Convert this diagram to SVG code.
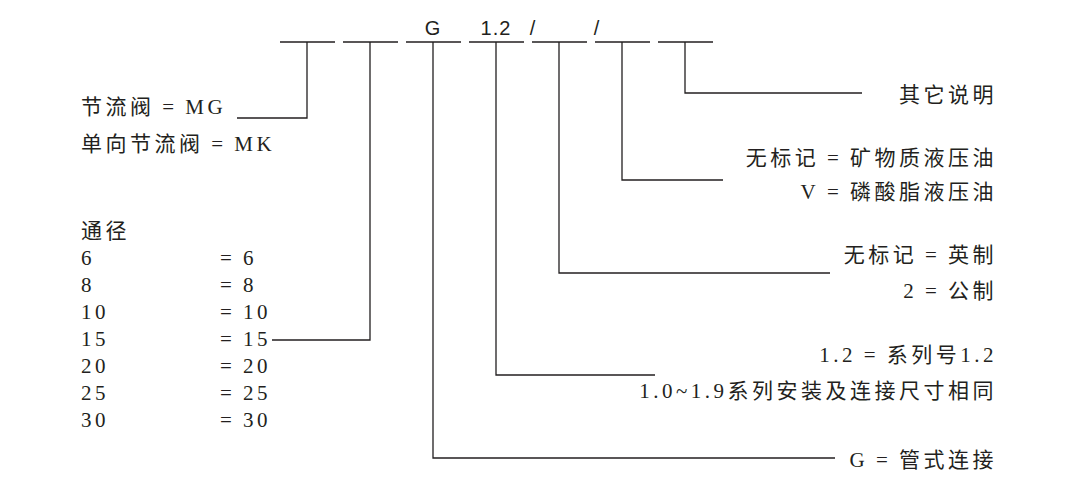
<svg xmlns="http://www.w3.org/2000/svg" width="1077" height="492" viewBox="0 0 1077 492">
<style>
.l{stroke:#231f20;stroke-width:1.3;fill:none}
text{font-family:"Liberation Serif","Noto Sans CJK SC",serif;font-size:21px;letter-spacing:3.5px;fill:#231f20}
.r{text-anchor:end}
.h{font-family:"Liberation Sans",sans-serif;font-size:20px;letter-spacing:1px}
</style>
<rect width="1077" height="492" fill="#fff"/>
<g id="code">
<text class="h" x="433" y="35" text-anchor="middle">G</text>
<text class="h" x="496" y="35" text-anchor="middle">1.2</text>
<text class="h" x="533" y="35" text-anchor="middle">/</text>
<text class="h" x="597" y="35" text-anchor="middle">/</text>
</g>
<g id="connectors" class="l">
<path d="M280 42H335M343 42H398M406 42H461M469 42H524M532 42H587M595 42H650M658 42H713"/>
<path d="M307 42V118H237"/>
<path d="M370 42V340H272"/>
<path d="M433 42V458H835"/>
<path d="M496 42V375H655"/>
<path d="M559 42V273H830"/>
<path d="M622 42V180H723"/>
<path d="M685 42V93H862"/>
</g>
<g id="left">
<text x="81" y="114">节流阀&#8201;=&#8201;MG</text>
<text x="81" y="151">单向节流阀&#8201;=&#8201;MK</text>
<text x="81" y="238">通径</text>
<text x="81" y="265">6</text><text x="220" y="265">=&#8201;6</text>
<text x="81" y="292">8</text><text x="220" y="292">=&#8201;8</text>
<text x="81" y="319">10</text><text x="220" y="319">=&#8201;10</text>
<text x="81" y="346">15</text><text x="220" y="346">=&#8201;15</text>
<text x="81" y="373">20</text><text x="220" y="373">=&#8201;20</text>
<text x="81" y="400">25</text><text x="220" y="400">=&#8201;25</text>
<text x="81" y="427">30</text><text x="220" y="427">=&#8201;30</text>
</g>
<g id="right">
<text class="r" x="997" y="102">其它说明</text>
<text class="r" x="997" y="165">无标记&#8201;=&#8201;矿物质液压油</text>
<text class="r" x="997" y="199">V&#8201;=&#8201;磷酸脂液压油</text>
<text class="r" x="997" y="262">无标记&#8201;=&#8201;英制</text>
<text class="r" x="997" y="298">2&#8201;=&#8201;公制</text>
<text class="r" x="997" y="362">1.2&#8201;=&#8201;系列号1.2</text>
<text class="r" x="997" y="398">1.0~1.9系列安装及连接尺寸相同</text>
<text class="r" x="997" y="467">G&#8201;=&#8201;管式连接</text>
</g>
</svg>
